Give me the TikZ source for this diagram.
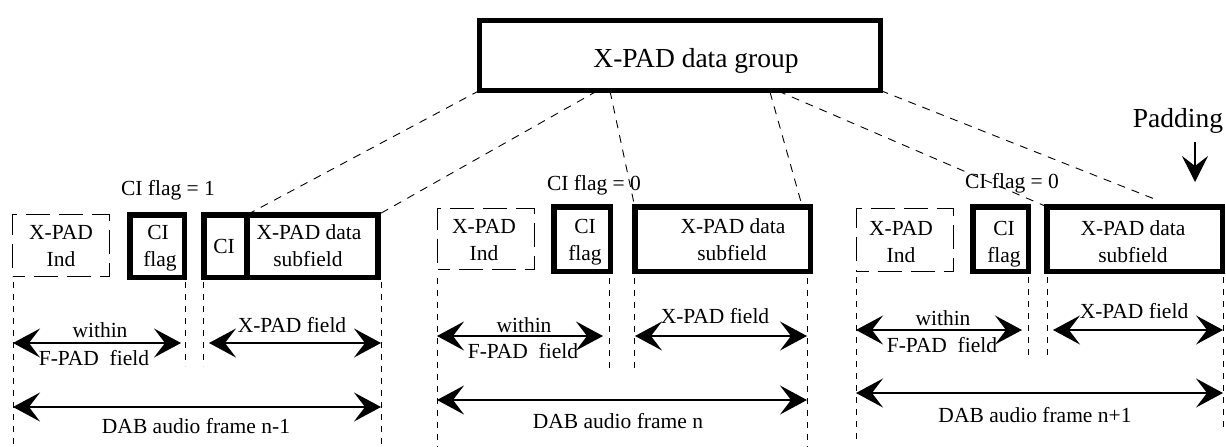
\documentclass[tikz,border=0pt]{standalone}
\usepackage{fontspec}
\setmainfont{Liberation Serif}
\usetikzlibrary{arrows.meta}
\begin{document}
\begin{tikzpicture}[x=1pt,y=-1pt,
  boxthick/.style={draw, line width=5.5pt, inner sep=0pt, outer sep=0pt},
  boxdash/.style={draw, line width=1pt, dash pattern=on 24pt off 9pt, dash phase=12pt, inner sep=0pt, outer sep=0pt},
  sm/.style={font=\fontsize{21.5}{26}\selectfont, inner sep=0pt, anchor=base},
  big/.style={font=\fontsize{27.5}{33}\selectfont, inner sep=0pt, anchor=base},
  guide/.style={line width=0.9pt, dash pattern=on 6pt off 6pt},
  link/.style={line width=0.9pt, dash pattern=on 8pt off 7pt},
  tipA/.tip={Stealth[length=27pt,width=29pt,inset=11pt]},
  dim/.style={line width=1.3pt, tipA-tipA},
  down/.style={line width=1.3pt, -{Stealth[length=26pt,width=26pt,inset=10pt]}}
]
\useasboundingbox (0,0) rectangle (1226,447);

% ---------- top box ----------
\node[draw, line width=5pt, inner sep=0pt, outer sep=0pt, minimum width=401pt, minimum height=70pt] (top) at (680,55.5) {};
\node[big] (topt) at (696,67) {X-PAD data group};

% ---------- left group ----------
\node[boxdash, minimum width=97pt, minimum height=62pt] (indL) at (61,245.5) {};
\node[boxthick, minimum width=54.5pt, minimum height=62.5pt] (ciflagL) at (157,246) {};
\node[boxthick, minimum width=43.25pt, minimum height=62.5pt] (ciL) at (225.4,246) {};
\node[boxthick, minimum width=131.25pt, minimum height=62.5pt] (dataL) at (312.6,246) {};
\node[sm] (indLa) at (61,239) {X-PAD};
\node[sm] (indLb) at (61,266) {Ind};
\node[sm] (ciflagLa) at (158,239) {CI};
\node[sm] (ciflagLb) at (160,266) {flag};
\node[sm] (ciLa) at (224,253) {CI};
\node[sm] (dataLa) at (309,239) {X-PAD data};
\node[sm] (dataLb) at (308,266) {subfield};
\node[sm] (flagL) at (168,195) {CI flag = 1};

\draw[guide] (13,282) -- (13,447);
\draw[guide] (185,282) -- (185,366);
\draw[guide] (203,282) -- (203,366);
\draw[guide] (381,282) -- (381,447);
\draw[dim] (13,343) -- (181,343);
\draw[dim] (209,343) -- (381,343);
\draw[dim] (13,407) -- (381,407);
\node[sm] (withinL) at (100,337) {within};
\node[sm] (fpadL) at (94,365) {F-PAD\ \ field};
\node[sm] (xpadfL) at (292,332) {X-PAD field};
\node[sm] (dabL) at (196,433) {DAB audio frame n-1};

% ---------- middle group ----------
\node[boxdash, minimum width=97pt, minimum height=61pt] (indM) at (486,239) {};
\node[boxthick, minimum width=56.5pt, minimum height=64.5pt] (ciflagM) at (582,239) {};
\node[boxthick, minimum width=175.5pt, minimum height=64.5pt] (dataM) at (722.5,239) {};
\node[sm] (indMa) at (484,233) {X-PAD};
\node[sm] (indMb) at (484,260) {Ind};
\node[sm] (ciflagMa) at (585,233) {CI};
\node[sm] (ciflagMb) at (585,260) {flag};
\node[sm] (dataMa) at (733,233) {X-PAD data};
\node[sm] (dataMb) at (732,260) {subfield};
\node[sm] (flagM) at (594,190) {CI flag = 0};

\draw[guide] (437,278) -- (437,447);
\draw[guide] (609,278) -- (609,368);
\draw[guide] (634,278) -- (634,368);
\draw[guide] (807,278) -- (807,447);
\draw[dim] (437,336) -- (603,336);
\draw[dim] (635,336) -- (807,336);
\draw[dim] (437,400) -- (807,400);
\node[sm] (withinM) at (524,332) {within};
\node[sm] (fpadM) at (523,358) {F-PAD\ \ field};
\node[sm] (xpadfM) at (715,323) {X-PAD field};
\node[sm] (dabM) at (618,428) {DAB audio frame n};

% ---------- right group ----------
\node[boxdash, minimum width=97pt, minimum height=63pt] (indR) at (905,240) {};
\node[boxthick, minimum width=55.5pt, minimum height=64.5pt] (ciflagR) at (1000.5,239) {};
\node[boxthick, minimum width=175.5pt, minimum height=64.5pt] (dataR) at (1134.5,239) {};
\node[sm] (indRa) at (901,235) {X-PAD};
\node[sm] (indRb) at (901,262) {Ind};
\node[sm] (ciflagRa) at (1004,235) {CI};
\node[sm] (ciflagRb) at (1004,262) {flag};
\node[sm] (dataRa) at (1133,235) {X-PAD data};
\node[sm] (dataRb) at (1133,262) {subfield};
\node[sm] (flagR) at (1012,188) {CI flag = 0};

\draw[guide] (856,277) -- (856,441);
\draw[guide] (1028,277) -- (1028,357);
\draw[guide] (1047,277) -- (1047,357);
\draw[guide] (1223,277) -- (1223,428);
\draw[dim] (856,330) -- (1022,330);
\draw[dim] (1053,330) -- (1223,330);
\draw[dim] (856,393) -- (1223,393);
\node[sm] (withinR) at (943,325) {within};
\node[sm] (fpadR) at (942,352) {F-PAD\ \ field};
\node[sm] (xpadfR) at (1134,318) {X-PAD field};
\node[sm] (dabR) at (1035,422) {DAB audio frame n+1};

% ---------- padding ----------
\node[big] (pad) at (1178,127) {Padding};
\coordinate (padend) at (1195,182);
\draw[down] (1195,142) -- (padend);

% ---------- links from the data group ----------
\coordinate (t2) at (597,91);
\coordinate (t3) at (610,91);
\coordinate (t4) at (770,92);
\coordinate (t5) at (778,91);
\coordinate (e4) at (801,202);
\coordinate (e6) at (1157,200);
\draw[link] (top.south west) -- (dataL.north west);
\draw[link] (t2) -- (dataL.north east);
\draw[link] (t3) -- (dataM.north west);
\draw[link] (t4) -- (e4);
\draw[link] (t5) -- (dataR.north west);
\draw[link] (top.south east) -- (e6);
\end{tikzpicture}
\end{document}
